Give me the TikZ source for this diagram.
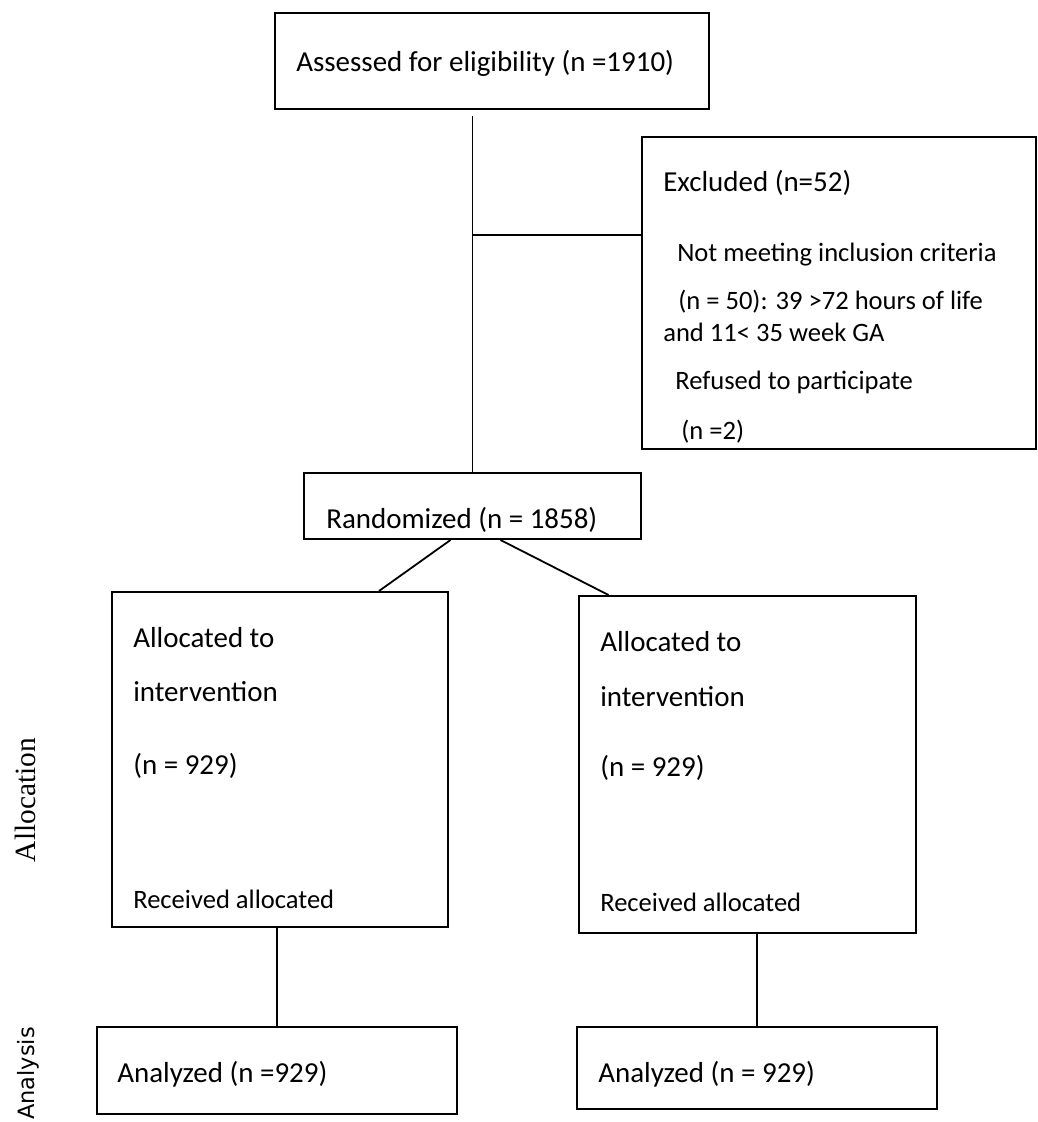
\documentclass[tikz,border=0pt]{standalone}
\usepackage{fontspec}
\usepackage{tikz}
\usetikzlibrary{positioning}
\setmainfont{Carlito}
\newfontfamily\sideserif{Liberation Serif}
\newfontfamily\sidesans{DejaVu Sans}

\begin{document}
\begin{tikzpicture}[
    x=0.25mm, y=-0.25mm,
    box/.style={rectangle, draw=black, line width=0.5mm, inner sep=0pt},
    txt/.style={anchor=base west, inner sep=0pt, font=\fontsize{20.6}{24}\selectfont},
    smalltxt/.style={txt, font=\fontsize{18.9}{22}\selectfont},
    link/.style={draw=black, line width=0.45mm}
]
\useasboundingbox (0,0) rectangle (1038,1122);

% Assessed
\node[box, minimum width=108.5mm, minimum height=24mm] (assess) at (492,61) {};
\node[txt] (assesstxt) at (296,71) {Assessed for eligibility (n =1910)};

% Excluded
\node[box, minimum width=98.5mm, minimum height=78mm] (excl) at (839,293) {};
\node[txt] (excltxt) at (663,191) {Excluded (n=52)};
\node[smalltxt] (notmeet) at (677,261) {Not meeting inclusion criteria};
\node[smalltxt] (notmeetn) at (678,309) {(n = 50): 39 >72 hours of life};
\node[smalltxt] (notmeetga) at (663,341) {and 11< 35 week GA};
\node[smalltxt] (refused) at (675,389) {Refused to participate};
\node[smalltxt] (refusedn) at (681,439) {(n =2)};

% Randomized
\node[box, minimum width=84.25mm, minimum height=16.5mm] (rand) at (472.5,506) {};
\node[txt] (randtxt) at (326,528) {Randomized (n = 1858)};

% Allocation, left
\node[box, minimum width=84mm, minimum height=83.75mm] (allocL) at (280,759.5) {};
\node[txt] (allocLa) at (133,647) {Allocated to};
\node[txt] (allocLb) at (133,701) {intervention};
\node[txt] (allocLn) at (133,774) {(n = 929)};
\node[smalltxt] (allocLr) at (133,908) {Received allocated};

% Allocation, right
\node[box, minimum width=84.25mm, minimum height=84.25mm] (allocR) at (747.5,764.5) {};
\node[txt] (allocRa) at (600,651) {Allocated to};
\node[txt] (allocRb) at (600,706) {intervention};
\node[txt] (allocRn) at (600,776) {(n = 929)};
\node[smalltxt] (allocRr) at (600,911) {Received allocated};

% Analysis
\node[box, minimum width=90mm, minimum height=21.75mm] (anaL) at (277,1070.5) {};
\node[txt] (anaLtxt) at (117,1082) {Analyzed (n =929)};
\node[box, minimum width=90mm, minimum height=20.5mm] (anaR) at (757,1068) {};
\node[txt] (anaRtxt) at (598,1082) {Analyzed (n = 929)};

% Side labels
\node[rotate=90, inner sep=0pt, font=\sideserif\fontsize{20.9}{24}\selectfont] (sidealloc) at (25,800) {Allocation};
\node[rotate=90, anchor=east, inner sep=0pt, font=\sidesans\fontsize{16}{19}\selectfont] (sideana) at (28,1027) {Analysis};

% Lines
\coordinate (split) at (472.5,235);
\draw[link, shorten >=1.5mm] (rand.north) -- (rand.north |- assess.south);
\draw[link] (split) -- (split -| excl.west);
\draw[link] ([xshift=-5.5mm]rand.south) -- ([xshift=24.75mm]allocL.north);
\draw[link] ([xshift=7mm]rand.south) -- ([xshift=-34.75mm]allocR.north);
\draw[link] (anaL.north) -- (anaL.north |- allocL.south);
\draw[link] (anaR.north) -- (anaR.north |- allocR.south);

\end{tikzpicture}
\end{document}
